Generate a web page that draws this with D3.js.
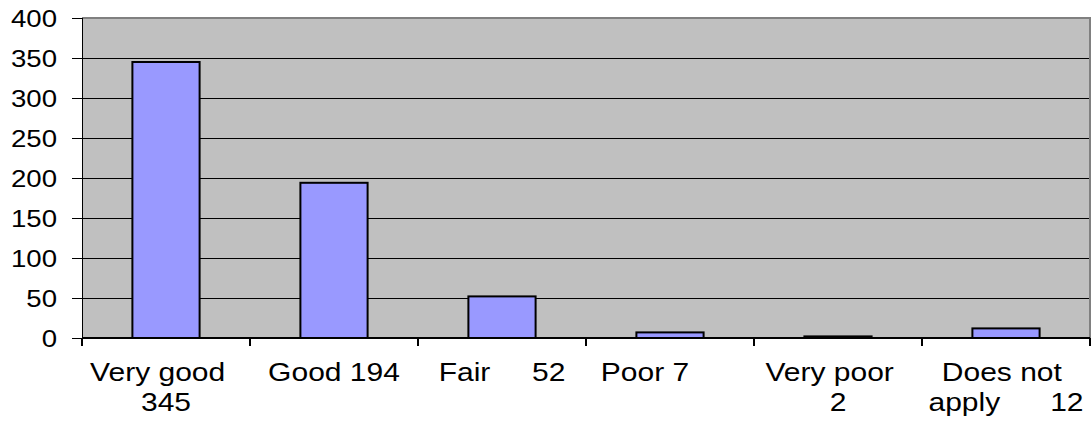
<!DOCTYPE html>
<html>
<head>
<meta charset="utf-8">
<script src="https://cdn.jsdelivr.net/npm/d3@7"></script>
<style>
	body { margin: 0; background: #fff; }
	text { font-family: "Liberation Sans", Arial, sans-serif; fill: #000; white-space: pre; }
	line, .domain { shape-rendering: crispEdges; }
</style>
</head>
<body>
<div id="chart"></div>
<script>
	"use strict";

	// data
	var categories = ["Very good", "Good", "Fair", "Poor", "Very poor", "Does not apply"];
	var counts = [345, 194, 52, 7, 2, 12];
	// category labels, as the lines they wrap into (spaces kept)
	var labelLines = [
		["Very good  ", "345"],
		["Good 194"],
		["Fair     52"],
		["Poor 7      "],
		["Very poor  ", "2"],
		["Does not ", "apply      12"]
	];
	var yTicks = [0, 50, 100, 150, 200, 250, 300, 350, 400];

	var width = 1092, height = 421;
	var plot = { left: 82, right: 1090, top: 18, bottom: 338 };
	var stretch = 1.2; // text in the picture is drawn a bit wide

	var svg = d3.select("#chart")
		.append("svg")
		.attr("width", width)
		.attr("height", height);

	var x = d3.scaleBand()
		.domain(categories)
		.range([plot.left, plot.right])
		.paddingInner(0.6)
		.paddingOuter(0.3);

	var y = d3.scaleLinear()
		.domain([0, 400])
		.range([plot.bottom, plot.top]);

	// grey plot area
	svg.append("rect")
		.attr("x", plot.left)
		.attr("y", plot.top)
		.attr("width", plot.right - plot.left)
		.attr("height", plot.bottom - plot.top)
		.attr("fill", "#c0c0c0");

	// gridlines
	svg.selectAll(".grid")
		.data(yTicks.filter(function(d) { return d > 0 && d < 400; }))
		.enter()
		.append("line")
		.attr("class", "grid")
		.attr("x1", plot.left)
		.attr("x2", plot.right)
		.attr("y1", function(d) { return y(d); })
		.attr("y2", function(d) { return y(d); })
		.attr("stroke", "#000")
		.attr("stroke-width", 1);

	// grey border top and right
	svg.append("path")
		.attr("d", "M" + plot.left + "," + y(400) + "H" + plot.right + "V" + plot.bottom)
		.attr("fill", "none")
		.attr("stroke", "#808080")
		.attr("stroke-width", 2);

	// bars
	svg.selectAll(".bar")
		.data(counts)
		.enter()
		.append("rect")
		.attr("class", "bar")
		.attr("x", function(d, i) { return x(categories[i]); })
		.attr("y", function(d) { return y(d); })
		.attr("width", x.bandwidth())
		.attr("height", function(d) { return y(0) - y(d); })
		.attr("fill", "#9999ff")
		.attr("stroke", "#000")
		.attr("stroke-width", 2);

	// y axis
	var yAxis = svg.append("g")
		.attr("transform", "translate(" + plot.left + ",0)")
		.call(d3.axisLeft(y).tickValues(yTicks).tickSize(10).tickFormat(d3.format("d")));
	yAxis.select(".domain").attr("stroke", "#000").attr("stroke-width", 1.5);
	yAxis.selectAll(".tick line").attr("stroke", "#000").attr("stroke-width", 1.5);
	yAxis.selectAll(".tick text")
		.attr("x", null)
		.attr("dy", null)
		.attr("dominant-baseline", "central")
		.attr("text-anchor", "end")
		.attr("transform", "translate(-25,0) scale(" + stretch + ",1)")
		.style("font-size", "23px")
		.style("font-family", "'Liberation Sans', Arial, sans-serif");

	// x axis line + ticks on category boundaries
	var bounds = d3.range(categories.length + 1).map(function(i) {
		return plot.left + i * x.step();
	});
	svg.append("line")
		.attr("x1", plot.left)
		.attr("x2", plot.right)
		.attr("y1", plot.bottom)
		.attr("y2", plot.bottom)
		.attr("stroke", "#000")
		.attr("stroke-width", 1.5);
	svg.selectAll(".xtick")
		.data(bounds)
		.enter()
		.append("line")
		.attr("class", "xtick")
		.attr("x1", function(d) { return d; })
		.attr("x2", function(d) { return d; })
		.attr("y1", plot.bottom)
		.attr("y2", plot.bottom + 8)
		.attr("stroke", "#000")
		.attr("stroke-width", 1.5);

	// category labels
	var labels = svg.selectAll(".xlabel")
		.data(categories)
		.enter()
		.append("g")
		.attr("class", "xlabel")
		.attr("transform", function(d) {
			return "translate(" + (x(d) + x.bandwidth() / 2) + "," + (plot.bottom + 43) + ")";
		});

	labels.each(function(d, i) {
		d3.select(this).selectAll("text")
			.data(labelLines[i])
			.enter()
			.append("text")
			.attr("text-anchor", "middle")
			.attr("transform", function(t, j) {
				return "translate(0," + (j * 30) + ") scale(" + stretch + ",1)";
			})
			.style("font-size", "25px")
			.text(function(t) { return t; });
	});
</script>
</body>
</html>
